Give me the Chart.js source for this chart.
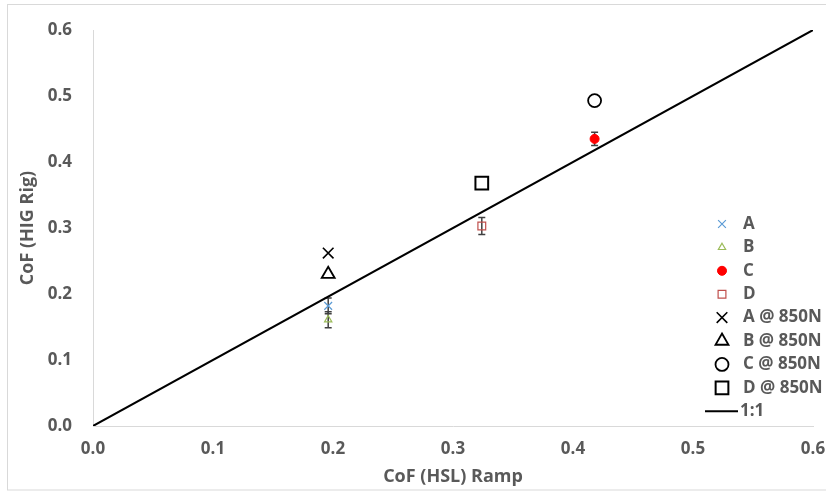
<!DOCTYPE html>
<html>
<head>
<meta charset="utf-8">
<script src="https://cdn.jsdelivr.net/npm/chart.js@4"></script>
<style>
  html, body { margin: 0; padding: 0; background: #fff; }
  canvas { display: block; }
</style>
</head>
<body>
<canvas id="cof-chart" width="826" height="493"></canvas>
<script>
// samples A-D: CoF from the HSL ramp vs the HIG rig
const samples = ["A", "B", "C", "D"];
const rampCoF = [0.196, 0.196, 0.418, 0.324];
const rigCoF = [0.182, 0.161, 0.435, 0.303];
const rigErr = [0.012, 0.012, 0.010, 0.013];
const rig850 = [0.262, 0.230, 0.493, 0.368];
const unityLine = [0, 0.6];
const axisTicks = [0, 0.1, 0.2, 0.3, 0.4, 0.5, 0.6];

const grey = "#595959";
const fontFam = '"Open Sans", "Liberation Sans", sans-serif';
const smallStyle = [
    { shape: "crossRot", r: 5.5, col: "#5b9bd5", fill: "transparent", bw: 1.2 },
    { shape: "triangle", r: 4.2, col: "#9bbb59", fill: "transparent", bw: 1.2 },
    { shape: "circle", r: 4.5, col: "#ff0000", fill: "#ff0000", bw: 1 },
    { shape: "rect", r: 5.5, col: "#c0504d", fill: "transparent", bw: 1.2 }
];
const bigStyle = [
    { shape: "crossRot", r: 7.5, bw: 1.6 },
    { shape: "triangle", r: 7.5, bw: 1.8 },
    { shape: "circle", r: 6.5, bw: 1.8 },
    { shape: "rect", r: 9, bw: 2 }
];

const datasets = [];
samples.forEach((s, i) => {
    const st = smallStyle[i];
    datasets.push({ label: s, data: [{ x: rampCoF[i], y: rigCoF[i] }], pointStyle: st.shape, pointRadius: st.r,
        pointBorderColor: st.col, pointBackgroundColor: st.fill, pointBorderWidth: st.bw, borderColor: st.col, showLine: false });
});
samples.forEach((s, i) => {
    const st = bigStyle[i];
    datasets.push({ label: s + " @ 850N", data: [{ x: rampCoF[i], y: rig850[i] }], pointStyle: st.shape, pointRadius: st.r,
        pointBorderColor: "#000", pointBackgroundColor: "transparent", pointBorderWidth: st.bw, borderColor: "#000", showLine: false });
});
datasets.push({ label: "1:1", data: unityLine.map(v => ({ x: v, y: v })), showLine: true, borderColor: "#000",
    borderWidth: 2, pointRadius: 0, isLine: true });

const frame = {
    id: "frame",
    beforeDraw(chart) {
        const c = chart.ctx;
        c.save();
        c.fillStyle = "#fff"; c.fillRect(0, 0, chart.width, chart.height);
        c.strokeStyle = "#d9d9d9"; c.lineWidth = 1;
        c.strokeRect(7.5, 4.5, 830, 485.5);
        c.restore();
    }
};

const errorBars = {
    id: "errorBars",
    beforeDatasetsDraw(chart) {
        const c = chart.ctx, xs = chart.scales.x, ys = chart.scales.y;
        c.save();
        c.strokeStyle = "#404040"; c.lineWidth = 1.5;
        rampCoF.forEach((xv, i) => {
            const px = xs.getPixelForValue(xv);
            const top = ys.getPixelForValue(rigCoF[i] + rigErr[i]);
            const bot = ys.getPixelForValue(rigCoF[i] - rigErr[i]);
            c.beginPath();
            c.moveTo(px, top); c.lineTo(px, bot);
            c.moveTo(px - 3.5, top); c.lineTo(px + 3.5, top);
            c.moveTo(px - 3.5, bot); c.lineTo(px + 3.5, bot);
            c.stroke();
        });
        c.restore();
    }
};

const sideLegend = {
    id: "sideLegend",
    afterDraw(chart) {
        const c = chart.ctx;
        c.save();
        c.font = "bold 17px " + fontFam;
        c.textBaseline = "middle";
        chart.data.datasets.forEach((ds, i) => {
            const y = 224 + i * 23.4;
            if (ds.isLine) {
                c.strokeStyle = ds.borderColor; c.lineWidth = 2;
                c.beginPath(); c.moveTo(705, y); c.lineTo(738, y); c.stroke();
                c.fillStyle = grey; c.fillText(ds.label, 740, y);
                return;
            }
            c.strokeStyle = ds.pointBorderColor; c.fillStyle = ds.pointBackgroundColor; c.lineWidth = ds.pointBorderWidth;
            Chart.helpers.drawPoint(c, { pointStyle: ds.pointStyle, radius: ds.pointRadius, rotation: 0, borderWidth: ds.pointBorderWidth }, 722, y);
            c.fillStyle = grey; c.fillText(ds.label, 743, y);
        });
        c.restore();
    }
};

const tickFmt = v => Number(v).toFixed(1);
const axisBase = (title) => ({
    type: "linear", min: axisTicks[0], max: axisTicks[axisTicks.length - 1],
    grid: { display: false, drawTicks: false },
    border: { display: true, color: "#d9d9d9", width: 1 },
    ticks: { stepSize: 0.1, callback: tickFmt, color: grey, font: { family: fontFam, size: 17, weight: "bold" } },
    title: { display: true, text: title, color: grey, font: { family: fontFam, size: 18, weight: "bold" } }
});

const xAxis = axisBase("CoF (HSL) Ramp");
xAxis.ticks.padding = 13;
xAxis.title.padding = { top: 0, bottom: 5 };
xAxis.afterFit = s => { s.height = 67; s.paddingLeft = 0; s.paddingRight = 0; };

const yAxis = axisBase("CoF (HIG Rig)");
yAxis.ticks.padding = 21;
yAxis.title.padding = { top: 17, bottom: 0 };
yAxis.afterFit = s => { s.width = 93; s.paddingTop = 0; s.paddingBottom = 0; };

new Chart(document.getElementById("cof-chart"), {
    type: "scatter",
    data: { datasets },
    options: {
        responsive: false, animation: false, devicePixelRatio: 1,
        layout: { padding: { left: 0, top: 30, right: 13, bottom: 0 } },
        plugins: { legend: { display: false }, tooltip: { enabled: false } },
        scales: { x: xAxis, y: yAxis }
    },
    plugins: [frame, errorBars, sideLegend]
});
</script>
</body>
</html>
